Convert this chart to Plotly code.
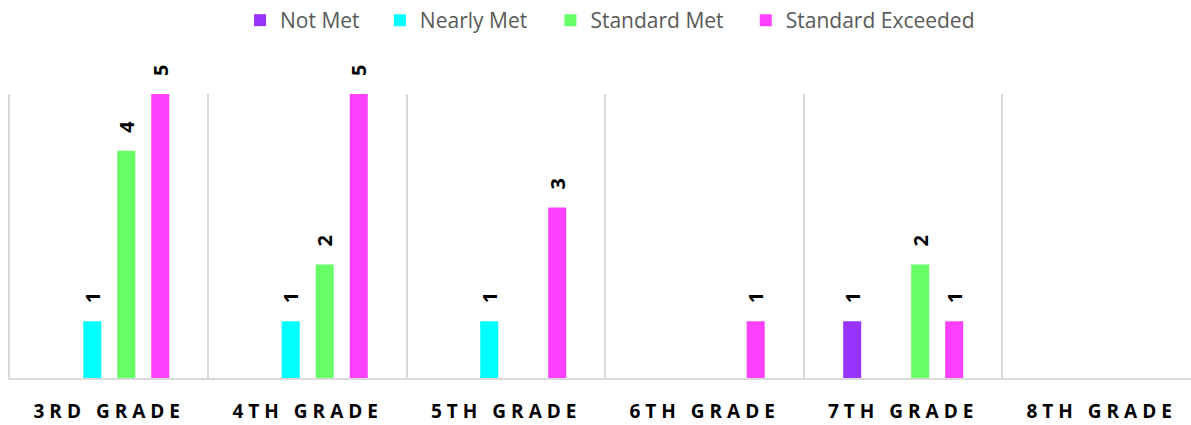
import plotly.graph_objects as go

categories = ["3RD GRADE", "4TH GRADE", "5TH GRADE", "6TH GRADE", "7TH GRADE", "8TH GRADE"]
series_names = ["Not Met", "Nearly Met", "Standard Met", "Standard Exceeded"]
not_met = [0, 0, 0, 0, 1, 0]
nearly_met = [1, 1, 1, 0, 0, 0]
standard_met = [4, 2, 0, 0, 2, 0]
standard_exceeded = [5, 5, 3, 1, 1, 0]
colors = ["#9933FF", "#00FFFF", "#66FF66", "#FF40FF"]

# horizontal placement of each legend entry (paper fraction)
legend_ids = ["legend", "legend2", "legend3", "legend4"]
legend_x = [232 / 1191, 373 / 1191, 545 / 1191, 742 / 1191]

fig = go.Figure()
for name, vals, col, lid in zip(series_names, [not_met, nearly_met, standard_met, standard_exceeded], colors, legend_ids):
    fig.add_trace(go.Bar(
        name=name, x=categories, y=vals, marker_color=col, marker_line_width=0,
        text=[str(v) if v else "" for v in vals],
        textposition="outside", textangle=-90, constraintext="none",
        cliponaxis=False, legend=lid,
        textfont=dict(family="Open Sans", size=20, color="#000000", weight="bold"),
    ))

legend_style = dict(orientation="h", xanchor="left", y=1, yanchor="top", yref="container",
                    font=dict(family="Open Sans", size=21, color="#595959"), itemwidth=30,
                    bgcolor="rgba(0,0,0,0)", borderwidth=0)
layout_legends = {lid: dict(legend_style, x=lx) for lid, lx in zip(legend_ids, legend_x)}

fig.update_layout(
    width=1191, height=425,
    margin=dict(l=10, r=0, t=94, b=47),
    paper_bgcolor="white", plot_bgcolor="white",
    barmode="group", bargap=0.315, bargroupgap=0.47,
    showlegend=True,
    font=dict(family="Open Sans"),
    **layout_legends,
)
fig.update_xaxes(
    range=[-0.5, 5.45], tickson="boundaries", showgrid=True, gridcolor="#d9d9d9", gridwidth=2,
    showline=True, linecolor="#d9d9d9", linewidth=2, ticks="", automargin=False,
    tickfont=dict(family="Open Sans", size=19, color="#000000", weight="bold"),
    ticklabelstandoff=15,
)
fig.update_yaxes(range=[0, 5], showgrid=False, showticklabels=False, zeroline=False,
                 showline=True, linecolor="#d9d9d9", linewidth=2, automargin=False)

post = """
var gd = document.getElementById('{plot_id}');
gd.querySelectorAll('.xtick text').forEach(function(t){ t.style.letterSpacing = '5px'; });
gd.querySelectorAll('text.bartext').forEach(function(t){
  var tr = t.getAttribute('transform') || '';
  t.setAttribute('transform', 'translate(0,-15) ' + tr);
});
"""
fig.write_html("out.html", post_script=post)
